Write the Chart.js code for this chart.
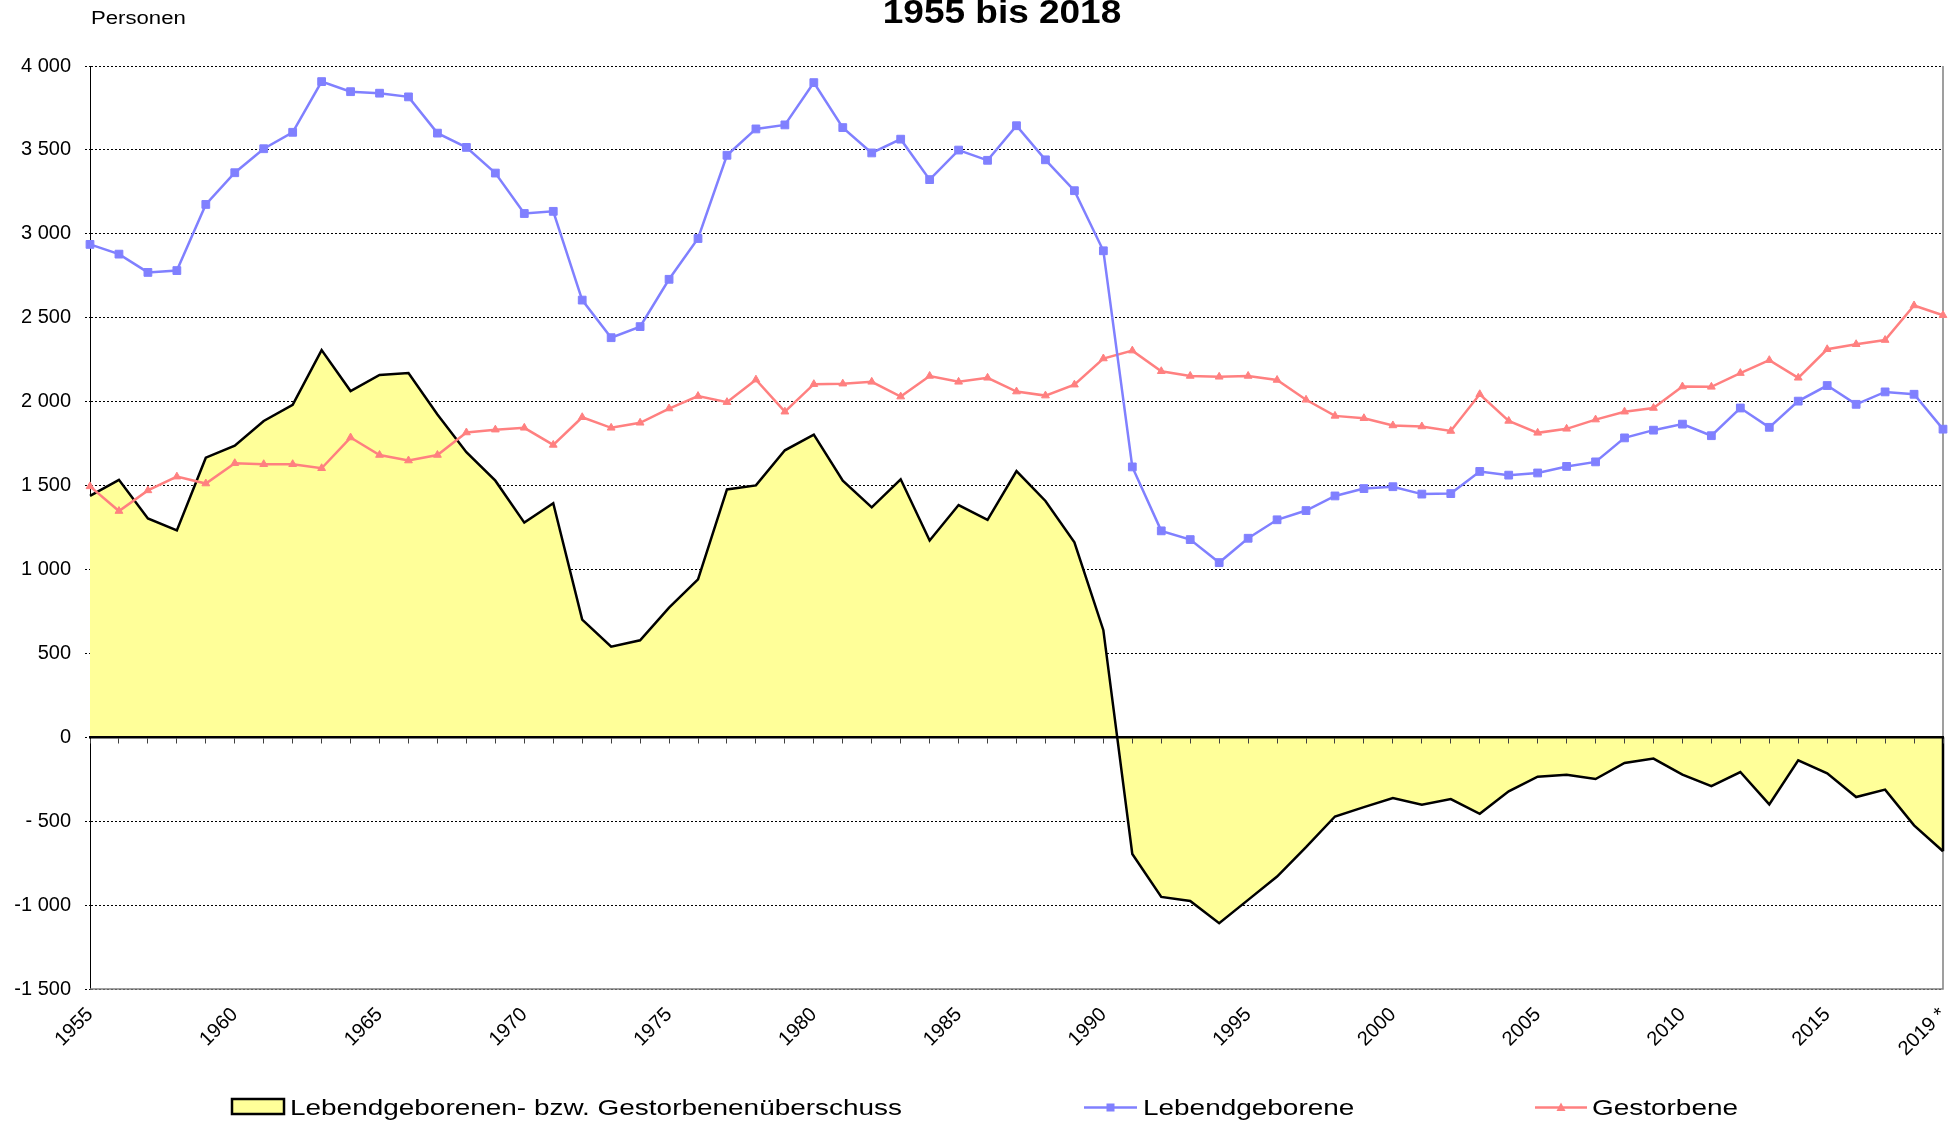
<!DOCTYPE html>
<html lang="de">
<head>
<meta charset="utf-8">
<title>Lebendgeborene und Gestorbene 1955 bis 2018</title>
<script src="https://cdn.jsdelivr.net/npm/chart.js"></script>
<style>
  html, body { margin: 0; padding: 0; background: #fff; }
  canvas { display: block; }
</style>
</head>
<body>
<canvas id="bevChart" width="1959" height="1123"></canvas>
<script>
// Jahre (letztes Jahr vorläufig)
const jahre = [
  "1955", "1956", "1957", "1958", "1959", "1960", "1961", "1962", "1963", "1964",
  "1965", "1966", "1967", "1968", "1969", "1970", "1971", "1972", "1973", "1974",
  "1975", "1976", "1977", "1978", "1979", "1980", "1981", "1982", "1983", "1984",
  "1985", "1986", "1987", "1988", "1989", "1990", "1991", "1992", "1993", "1994",
  "1995", "1996", "1997", "1998", "1999", "2000", "2001", "2002", "2003", "2004",
  "2005", "2006", "2007", "2008", "2009", "2010", "2011", "2012", "2013", "2014",
  "2015", "2016", "2017", "2018", "2019 *",
];

const lebendgeborene = [
  2937, 2879, 2770, 2781, 3175, 3364, 3507, 3605, 3907, 3847,
  3838, 3816, 3600, 3515, 3362, 3121, 3134, 2605, 2381, 2447,
  2729, 2972, 3468, 3625, 3649, 3901, 3633, 3482, 3564, 3323,
  3499, 3438, 3644, 3441, 3257, 2899, 1611, 1230, 1178, 1041,
  1186, 1296, 1351, 1438, 1482, 1493, 1449, 1452, 1584, 1562,
  1575, 1614, 1641, 1784, 1830, 1866, 1797, 1962, 1847, 2003,
  2096, 1984, 2058, 2044, 1836,
];

const gestorbene = [
  1495, 1348, 1471, 1553, 1512, 1633, 1627, 1627, 1603, 1786,
  1682, 1649, 1682, 1816, 1833, 1844, 1742, 1907, 1844, 1874,
  1959, 2033, 1997, 2131, 1940, 2104, 2107, 2118, 2030, 2153,
  2118, 2142, 2060, 2036, 2101, 2257, 2304, 2181, 2153, 2148,
  2153, 2129, 2011, 1915, 1901, 1858, 1852, 1825, 2044, 1885,
  1814, 1838, 1893, 1940, 1962, 2090, 2088, 2170, 2247, 2142,
  2312, 2342, 2367, 2573, 2515,
];

const ueberschuss = [
  1438, 1534, 1304, 1233, 1666, 1737, 1885, 1981, 2307, 2063,
  2159, 2170, 1923, 1699, 1529, 1279, 1395, 701, 540, 578,
  773, 941, 1477, 1501, 1710, 1803, 1529, 1370, 1537, 1173,
  1384, 1296, 1586, 1408, 1162, 638, -696, -951, -975, -1108,
  -969, -830, -655, -472, -416, -362, -402, -368, -456, -322,
  -235, -223, -249, -153, -127, -223, -291, -207, -400, -137,
  -215, -356, -312, -525, -679,
];

const FONT = '"Liberation Sans", Arial, Helvetica, sans-serif';
Chart.defaults.font.family = FONT;
Chart.defaults.color = "#000";

const BLAU = "#8080FF";
const ROT = "#FF8080";
const GELB = "#FFFF99";

// Zahlen wie in Excel: "4 000", "- 500", "-1 000"
function zahl(v) {
  const a = Math.abs(v);
  let s = a >= 1000 ? Math.floor(a / 1000) + " " + String(a % 1000).padStart(3, "0") : String(a);
  if (v < 0) s = (a < 1000 ? "- " : "-") + s;
  return s;
}

// Text leicht in die Breite gezogen (wie im Original)
function text(ctx, s, x, y, font, sx, align) {
  ctx.save();
  ctx.font = font;
  ctx.fillStyle = "#000";
  ctx.textBaseline = "alphabetic";
  ctx.textAlign = align || "left";
  ctx.translate(x, y);
  ctx.scale(sx, 1);
  ctx.fillText(s, 0, 0);
  ctx.restore();
}

const rahmen = {
  id: "rahmen",
  beforeDatasetsDraw(chart) {
    const { ctx, chartArea: a } = chart;
    ctx.save();
    ctx.strokeStyle = "#808080";
    ctx.lineWidth = 1.5;
    ctx.beginPath();
    ctx.moveTo(a.left, a.bottom);
    ctx.lineTo(a.right, a.bottom);
    ctx.lineTo(a.right, a.top);
    ctx.stroke();
    ctx.restore();
  },
  afterDatasetsDraw(chart) {
    // rechte Kante der Fläche schließen
    const { ctx } = chart;
    const pts = chart.getDatasetMeta(2).data;
    const last = pts[pts.length - 1];
    const y0 = chart.scales.y.getPixelForValue(0);
    ctx.save();
    ctx.strokeStyle = "#000";
    ctx.lineWidth = 2.5;
    ctx.beginPath();
    ctx.moveTo(last.x, y0);
    ctx.lineTo(last.x, last.y);
    ctx.stroke();
    ctx.restore();
  },
};

const beschriftung = {
  id: "beschriftung",
  afterDraw(chart) {
    const ctx = chart.ctx;
    text(ctx, "1955 bis 2018", 1002, 23, "bold 33px " + FONT, 1.12, "center");
    text(ctx, "Personen", 91, 24, "18px " + FONT, 1.23);

    // Legende
    const ds = chart.data.datasets;
    const f = "22px " + FONT;
    const ly = 1107.5;

    ctx.save();
    ctx.fillStyle = ds[2].backgroundColor;
    ctx.fillRect(232, 1099, 52, 15);
    ctx.strokeStyle = "#000";
    ctx.lineWidth = 2.5;
    ctx.strokeRect(232, 1099, 52, 15);
    ctx.restore();
    text(ctx, ds[2].label, 290, 1115, f, 1.27);

    ctx.save();
    ctx.strokeStyle = ds[0].borderColor;
    ctx.lineWidth = 2.5;
    ctx.beginPath();
    ctx.moveTo(1084, ly);
    ctx.lineTo(1137, ly);
    ctx.stroke();
    ctx.fillStyle = ds[0].borderColor;
    ctx.fillRect(1106.5, ly - 4, 8, 8);
    ctx.restore();
    text(ctx, ds[0].label, 1143, 1115, f, 1.27);

    ctx.save();
    ctx.strokeStyle = ds[1].borderColor;
    ctx.lineWidth = 2.5;
    ctx.beginPath();
    ctx.moveTo(1535, ly);
    ctx.lineTo(1587, ly);
    ctx.stroke();
    ctx.fillStyle = ds[1].borderColor;
    ctx.beginPath();
    ctx.moveTo(1561, ly - 5);
    ctx.lineTo(1565.5, ly + 3.5);
    ctx.lineTo(1556.5, ly + 3.5);
    ctx.closePath();
    ctx.fill();
    ctx.restore();
    text(ctx, ds[1].label, 1592, 1115, f, 1.27);
  },
};

new Chart(document.getElementById("bevChart"), {
  type: "line",
  data: {
    labels: jahre,
    datasets: [
      {
        label: "Lebendgeborene",
        data: lebendgeborene,
        borderColor: BLAU,
        backgroundColor: BLAU,
        borderWidth: 2.5,
        pointStyle: "rect",
        pointRadius: 5.5,
        pointBorderWidth: 1,
        tension: 0,
        order: 1,
      },
      {
        label: "Gestorbene",
        data: gestorbene,
        borderColor: ROT,
        backgroundColor: ROT,
        borderWidth: 2.5,
        pointStyle: "triangle",
        pointRadius: 4.5,
        pointBorderWidth: 1,
        tension: 0,
        order: 2,
      },
      {
        label: "Lebendgeborenen- bzw. Gestorbenenüberschuss",
        data: ueberschuss,
        borderColor: "#000",
        backgroundColor: GELB,
        borderWidth: 2.5,
        pointRadius: 0,
        fill: "origin",
        tension: 0,
        order: 3,
      },
    ],
  },
  options: {
    responsive: false,
    animation: false,
    devicePixelRatio: 1,
    layout: { padding: { top: 66, right: 16, bottom: 0, left: 0 } },
    plugins: {
      legend: { display: false },
      title: { display: false },
      tooltip: { enabled: false },
    },
    scales: {
      x: {
        type: "category",
        position: "bottom",
        offset: false,
        grid: { display: false, drawTicks: false },
        border: { display: false },
        ticks: {
          autoSkip: false,
          minRotation: 45,
          maxRotation: 45,
          padding: 14,
          font: { size: 20 },
          callback: (v, i) => (i % 5 === 0 || i === jahre.length - 1 ? jahre[i] : ""),
        },
        afterFit: (s) => {
          s.height = 134;
          s.paddingLeft = 0;
          s.paddingRight = 0;
        },
      },
      xNull: {
        type: "category",
        axis: "x",
        position: { y: 0 },
        offset: false,
        grid: {
          display: true,
          drawOnChartArea: false,
          drawTicks: true,
          tickLength: 5,
          tickColor: "#404040",
          tickWidth: 1,
          z: 1,
        },
        border: { display: true, color: "#000", width: 2.5, z: 1 },
        ticks: { display: false },
      },
      y: {
        type: "linear",
        position: "left",
        min: -1500,
        max: 4000,
        ticks: {
          stepSize: 500,
          padding: 14,
          font: { size: 20 },
          callback: (v) => zahl(v),
        },
        grid: {
          color: "#000",
          lineWidth: 1,
          tickLength: 5,
          tickColor: "#000",
          tickBorderDash: [2, 2],
        },
        border: { display: true, color: "#000", width: 1, dash: [2, 2] },
        afterFit: (s) => { s.width = 90; },
      },
    },
  },
  plugins: [rahmen, beschriftung],
});
</script>
</body>
</html>
